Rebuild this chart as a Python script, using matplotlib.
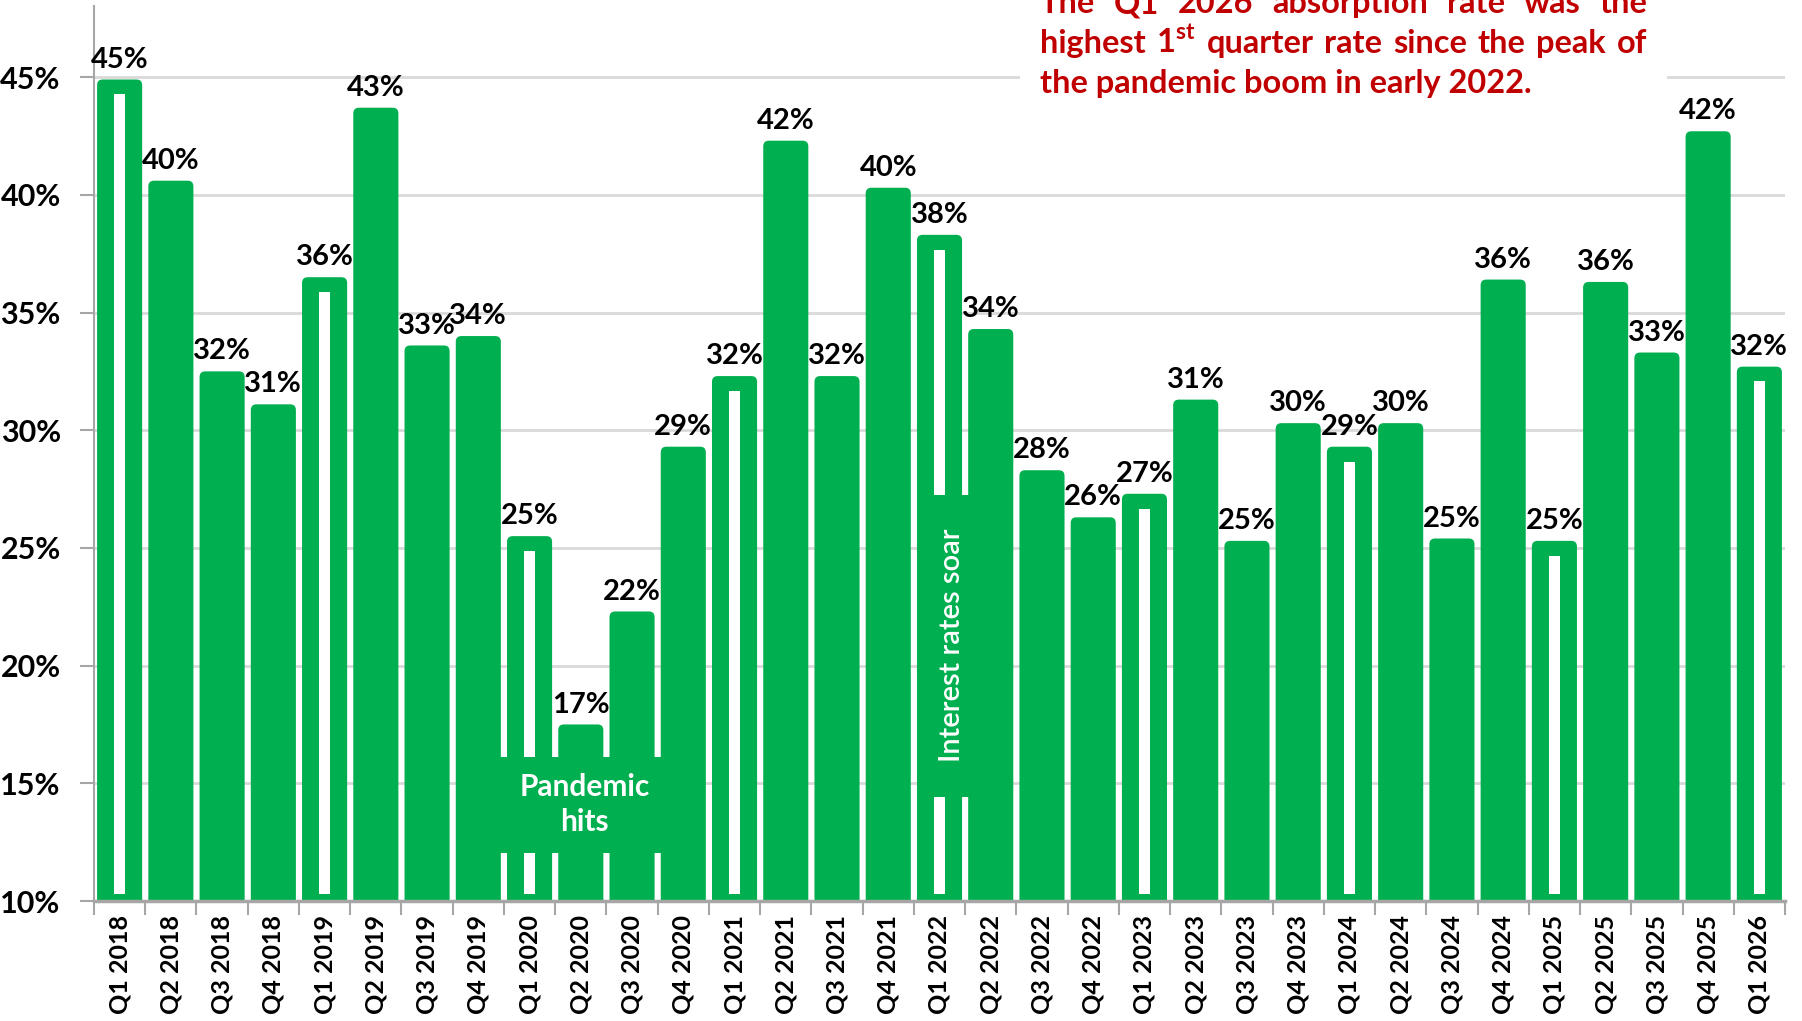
import numpy as np
import matplotlib.pyplot as plt
from matplotlib.patches import FancyBboxPatch, Rectangle

# quarterly absorption rate (%)
quarters = ['Q1 2018', 'Q2 2018', 'Q3 2018', 'Q4 2018',
            'Q1 2019', 'Q2 2019', 'Q3 2019', 'Q4 2019',
            'Q1 2020', 'Q2 2020', 'Q3 2020', 'Q4 2020',
            'Q1 2021', 'Q2 2021', 'Q3 2021', 'Q4 2021',
            'Q1 2022', 'Q2 2022', 'Q3 2022', 'Q4 2022',
            'Q1 2023', 'Q2 2023', 'Q3 2023', 'Q4 2023',
            'Q1 2024', 'Q2 2024', 'Q3 2024', 'Q4 2024',
            'Q1 2025', 'Q2 2025', 'Q3 2025', 'Q4 2025',
            'Q1 2026']
rates = [44.9, 40.6, 32.5, 31.1, 36.5, 43.7, 33.6, 34.0,
         25.5, 17.5, 22.3, 29.3, 32.3, 42.3, 32.3, 40.3,
         38.3, 34.3, 28.3, 26.3, 27.3, 31.3, 25.3, 30.3,
         29.3, 30.3, 25.4, 36.4, 25.3, 36.3, 33.3, 42.7,
         32.7]
rate_labels = [45, 40, 32, 31, 36, 43, 33, 34, 25, 17, 22, 29, 32, 42, 32, 40,
               38, 34, 28, 26, 27, 31, 25, 30, 29, 30, 25, 36, 25, 36, 33, 42,
               32]
yticks = [10, 15, 20, 25, 30, 35, 40, 45]

note_lines = [['The', 'Q1', '2026', 'absorption', 'rate', 'was', 'the'],
              ['highest', r'1$^{\mathbf{st}}$', 'quarter', 'rate', 'since', 'the', 'peak', 'of']]
note_last = 'the pandemic boom in early 2022.'

GREEN = '#00B050'
RED = '#C00000'
GRAY = '#a6a6a6'

plt.rcParams['font.family'] = ['Lato', 'DejaVu Sans']
plt.rcParams['mathtext.fontset'] = 'custom'
plt.rcParams['mathtext.rm'] = 'Lato:bold'
plt.rcParams['mathtext.bf'] = 'Lato:bold'

W, H = 1802, 1021
fig = plt.figure(figsize=(W / 100, H / 100), dpi=100)
ax = fig.add_axes([94 / W, 120 / H, 1691 / W, 894.5 / H])

x = np.arange(len(quarters))
r = np.array(rates)
base = 9.5   # start below the axis so the rounded bottom is clipped away

bars = ax.bar(x, r - base, bottom=base, width=0.88, color=GREEN, zorder=2)
for b in bars:
    b.set_visible(False)
    ax.add_patch(FancyBboxPatch((b.get_x(), b.get_y()), b.get_width(), b.get_height(),
                                boxstyle='round,pad=0,rounding_size=0.11',
                                mutation_aspect=2.2, fc=GREEN, ec='none', zorder=2))

# first quarters are drawn hollow
q1 = np.array([i for i, q in enumerate(quarters) if q.startswith('Q1')])
ax.bar(x[q1], r[q1] - 0.63 - 10.3, bottom=10.3, width=0.22, color='white', zorder=3)

for xi, v, lab in zip(x, r, rate_labels):
    ax.annotate(f'{lab}%', (xi, v), xytext=(0, 5), textcoords='offset points',
                ha='center', va='bottom', fontsize=21, fontweight='bold', zorder=6)

# event boxes
ax.add_patch(Rectangle((7.42, 12.04), 10.76 - 7.42, 16.1 - 12.04, fc=GREEN, ec='none', zorder=4))
ax.text(9.08, 14.1, 'Pandemic\nhits', color='white', fontsize=21.5, fontweight='bold',
        ha='center', va='center', linespacing=1.3, zorder=5)
ax.add_patch(Rectangle((15.56, 14.42), 16.92 - 15.56, 27.25 - 14.42, fc=GREEN, ec='none', zorder=4))
ax.text(16.24, 20.85, 'Interest rates soar', color='white', fontsize=21, fontweight='semibold',
        rotation=90, ha='center', va='center', zorder=5)

# white panel behind the note
ax.add_patch(Rectangle((17.57, 43.8), 30.2 - 17.57, 5, fc='white', ec='none', zorder=1))

ax.set_xlim(-0.5, len(quarters) - 0.5)
ax.set_ylim(10, 48)
ax.set_yticks(yticks)
ax.set_yticklabels([f'{t}%' for t in yticks], fontsize=22, fontweight='bold')
ax.set_xticks(x)
ax.set_xticklabels(quarters, rotation=90, fontsize=18, fontweight='bold')
ax.set_xticks(np.arange(-0.5, len(quarters)), minor=True)
ax.tick_params(axis='x', which='major', length=0, pad=10)
ax.tick_params(axis='x', which='minor', length=10, width=1.5, color=GRAY)
ax.tick_params(axis='y', length=10, width=1.5, color=GRAY, pad=14)
ax.yaxis.grid(True, color='#d9d9d9', lw=2)
ax.set_axisbelow(True)
for s in ['top', 'right']:
    ax.spines[s].set_visible(False)
ax.spines['left'].set_color(GRAY)
ax.spines['left'].set_linewidth(1.5)
ax.spines['bottom'].set_color(GRAY)
ax.spines['bottom'].set_linewidth(2.5)

# justified red note at the top right
rend = fig.canvas.get_renderer()
x0, x1 = 1040, 1647
probe = fig.text(0, 0, note_last, fontsize=20, fontweight='bold')
fs = 20 * 492 / probe.get_window_extent(rend).width
probe.remove()

baselines = [13, 53]
for words, yb in zip(note_lines, baselines):
    ts = [fig.text(0, 1 - yb / H, w, fontsize=fs, fontweight='bold', color=RED,
                   va='baseline') for w in words]
    widths = [t.get_window_extent(rend).width for t in ts]
    gap = (x1 - x0 - sum(widths)) / (len(words) - 1)
    px = x0
    for t, w in zip(ts, widths):
        t.set_x(px / W)
        px += w + gap
fig.text(x0 / W, 1 - 93 / H, note_last, fontsize=fs, fontweight='bold', color=RED,
         va='baseline')

fig.savefig('out.png', dpi=100)
